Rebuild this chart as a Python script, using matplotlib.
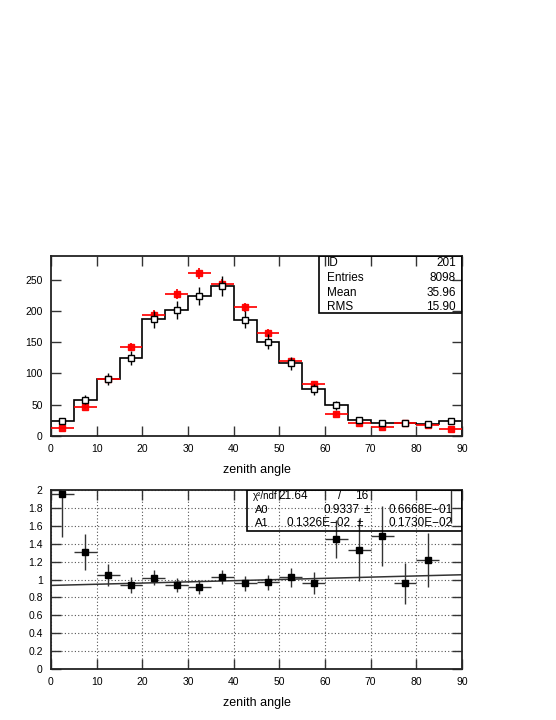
import numpy as np
import matplotlib
matplotlib.use("Agg")
import matplotlib.pyplot as plt

plt.rcParams['font.family'] = ['Liberation Sans', 'DejaVu Sans']

# ---- data ----
edges = [0, 5, 10, 15, 20, 25, 30, 35, 40, 45, 50, 55, 60, 65, 70, 75, 80, 85, 90]
centers = [2.5, 7.5, 12.5, 17.5, 22.5, 27.5, 32.5, 37.5, 42.5, 47.5,
           52.5, 57.5, 62.5, 67.5, 72.5, 77.5, 82.5, 87.5]
data_counts = [24, 58, 91, 125, 187, 201, 224, 240, 186, 151,
               116, 75, 49, 26, 21, 20, 19, 24]
data_err = [4.9, 7.6, 9.5, 11.2, 13.7, 14.2, 15.0, 15.5, 13.6, 12.3,
            10.8, 8.7, 7.0, 5.1, 4.6, 4.5, 4.4, 4.9]
mc_counts = [12.3, 47, 91, 142, 194, 227, 260, 243, 206, 165,
             120, 83, 35, 20, 15, 21, 18, 11.7]
mc_err = [1.8, 3.4, 4.8, 6.0, 7.0, 7.5, 8.1, 7.8, 7.2, 6.4,
          5.5, 4.6, 3.0, 2.2, 1.9, 2.3, 2.1, 1.7]

ratio = [1.96, 1.31, 1.05, 0.94, 1.02, 0.935, 0.913, 1.03, 0.957, 0.968,
         1.024, 0.96, 1.45, 1.33, 1.486, 0.957, 1.214, 2.10]
ratio_err = [0.48, 0.20, 0.127, 0.093, 0.086, 0.08, 0.078, 0.078, 0.08, 0.085,
             0.108, 0.12, 0.21, 0.35, 0.33, 0.23, 0.30, 0.47]

A0 = 0.9337
A1 = 0.1326e-02

stats_labels = ["ID", "Entries", "Mean", "RMS"]
stats_values = ["201", "8098", "35.96", "15.90"]

xlabel = "zenith angle"

# ---- figure ----
fig = plt.figure(figsize=(5.56, 7.2), dpi=100)
W, H = 556.0, 720.0

def axrect(l, r, t, b):
    return [l / W, 1 - b / H, (r - l) / W, (b - t) / H]

ax1 = fig.add_axes(axrect(51, 462, 256, 436))
ax2 = fig.add_axes(axrect(51, 462, 490, 669))

for ax in (ax1, ax2):
    for s in ax.spines.values():
        s.set_linewidth(1.3)
        s.set_color('#222222')
    ax.tick_params(direction='in', top=True, right=True, length=7, width=1.0,
                   labelsize=7.5, pad=6, color='#333333')
    ax.set_xlim(0, 90)
    ax.set_xticks(range(0, 91, 10))

# upper
ax1.set_ylim(0, 288)
ax1.set_yticks(range(0, 251, 50))
ax1.stairs(data_counts, edges, color='black', linewidth=1.2)
ax1.errorbar(centers, mc_counts, xerr=2.5, yerr=mc_err, fmt='s', color='red',
             ms=4.5, elinewidth=1.3, capsize=0, alpha=0.95, zorder=3)
ax1.errorbar(centers, data_counts, yerr=data_err, fmt='s', mfc='white', mec='black',
             ms=5, mew=1.0, ecolor='black', elinewidth=1.0, capsize=0, zorder=4)
ax1.set_xlabel(xlabel, fontsize=9, labelpad=7)

# stats box
bx0 = (319 - 51) / 411.0
by0 = (436 - 313) / 180.0
ax1.add_patch(plt.Rectangle((bx0, by0), 1 - bx0, 1 - by0, transform=ax1.transAxes,
                            fill=False, edgecolor='black', linewidth=1.2, zorder=5))
rows_y = [263, 278, 293, 307]
for lab, val, py in zip(stats_labels, stats_values, rows_y):
    yy = (436 - py) / 180.0
    ax1.text((327 - 51) / 411.0, yy, lab, transform=ax1.transAxes, fontsize=8.5,
             va='center', ha='left')
    ax1.text((456 - 51) / 411.0, yy, val, transform=ax1.transAxes, fontsize=8.5,
             va='center', ha='right')

# lower
ax2.set_ylim(0, 2)
ax2.set_yticks(np.arange(0, 2.01, 0.2))
ax2.set_yticklabels(["0", "0.2", "0.4", "0.6", "0.8", "1", "1.2", "1.4", "1.6", "1.8", "2"])
ax2.grid(True, linestyle=(0, (1, 2)), color='#555555', linewidth=0.8)
fx = np.array([0.0, 90.0])
ax2.plot(fx, A0 + A1 * fx, color='#333333', linewidth=1.1, zorder=2)
ax2.errorbar(centers, ratio, xerr=2.5, yerr=ratio_err, fmt='s', color='black',
             ms=4.5, ecolor='#333333', elinewidth=1.0, capsize=0, zorder=3)
ax2.set_xlabel(xlabel, fontsize=9, labelpad=7)

lx0 = (247 - 51) / 411.0
ly0 = (669 - 531) / 179.0
ax2.add_patch(plt.Rectangle((lx0, ly0), 1 - lx0, 1 - ly0, transform=ax2.transAxes,
                            fill=False, edgecolor='black', linewidth=1.2, zorder=5))

def lt(xp, yp, s, ha='left', fs=8.5):
    ax2.text((xp - 51) / 411.0, (669 - yp) / 179.0, s, transform=ax2.transAxes,
             fontsize=fs, va='center', ha=ha, zorder=6)

lt(253, 496, "χ²/ndf", fs=7)
lt(278, 496, "21.64")
lt(340, 496, "/", ha='center')
lt(368, 496, "16", ha='right')
lt(255, 510, "A0", fs=8)
lt(360, 510, "0.9337", ha='right')
lt(367, 510, "±", ha='center')
lt(453, 510, "0.6668E−01", ha='right')
lt(255, 523, "A1", fs=8)
lt(351, 523, "0.1326E−02", ha='right')
lt(360, 523, "±", ha='center')
lt(453, 523, "0.1730E−02", ha='right')

fig.savefig("out.png", dpi=100)
